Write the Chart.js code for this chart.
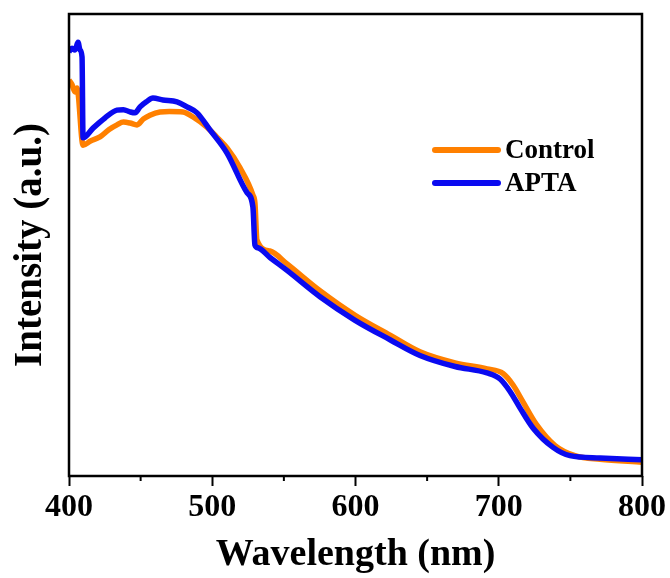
<!DOCTYPE html>
<html>
<head>
<meta charset="utf-8">
<script src="https://cdn.jsdelivr.net/npm/chart.js@4.4.1/dist/chart.umd.min.js"></script>
<style>
  html, body { margin: 0; padding: 0; background: #fff; }
</style>
</head>
<body>
<canvas id="specChart" width="670" height="578"></canvas>
<script>
// wavelength (nm) and intensity (a.u., 0-100)
const controlWavelength = [400, 402, 404.2, 405.6, 409.8, 415, 421.6, 428, 433.5, 438, 442.6, 447.5, 452, 456.5, 463.5, 470, 479.6, 486.6, 496.3, 503, 510.3, 519.4, 528.4, 529.8, 531.2, 540.3, 552.2, 575.2, 599.7, 624.1, 645, 669.5, 691.8, 703, 710, 717, 726, 739.3, 753.2, 770.7, 800];
const controlIntensity  = [85.7, 84.8, 83.1, 84.0, 71.6, 72.5, 73.4, 75.0, 76.0, 76.6, 76.4, 76.0, 77.3, 78.1, 78.8, 78.9, 78.8, 77.7, 75.5, 73.4, 71.0, 66.7, 60.8, 59.1, 51.1, 48.7, 45.9, 40.1, 34.8, 30.5, 26.9, 24.5, 23.2, 22.2, 19.7, 16.0, 11.3, 6.6, 4.4, 3.6, 3.0];

const aptaWavelength = [400, 402.1, 404.2, 406.3, 407.7, 409.1, 409.8, 416.8, 425.1, 433.5, 438, 442.6, 446.1, 449.6, 454, 458.6, 465.6, 475.4, 482.4, 489.4, 498.4, 510.3, 524.3, 528.4, 529.8, 531.9, 540.3, 552.2, 575.2, 599.7, 624.1, 645, 669.5, 691.8, 700.9, 707.9, 714.9, 723.9, 737.9, 749.7, 770.7, 800];
const aptaIntensity  = [91.8, 92.6, 92.2, 93.9, 92.2, 90.7, 73.2, 75.3, 77.5, 79.2, 79.3, 78.8, 78.6, 79.9, 81.0, 81.8, 81.4, 81.0, 79.9, 78.6, 74.9, 69.9, 61.3, 58.2, 50.0, 49.4, 47.3, 44.5, 38.8, 33.7, 29.5, 26.1, 23.7, 22.3, 21.0, 18.3, 14.7, 10.4, 6.2, 4.4, 3.9, 3.5];

const xTickLabels = [400, 500, 600, 700, 800];
const xMinorTicks = [450, 550, 650, 750];
const seriesNames = ['Control', 'APTA'];
const seriesColors = ['#FF8000', '#0A0AF0'];

const serif = '"Liberation Serif", "Times New Roman", serif';

function toPoints(xs, ys) {
    return xs.map((x, i) => ({ x: x, y: ys[i] }));
}

// frame, minor ticks and the legend block inside the plot
const framePlugin = {
    id: 'frame',
    afterDraw(chart) {
        const { ctx, chartArea: a } = chart;
        const x = chart.scales.x;
        ctx.save();
        ctx.strokeStyle = '#000';
        ctx.lineWidth = 2.5;
        ctx.strokeRect(a.left, a.top, a.right - a.left, a.bottom - a.top);
        ctx.lineWidth = 2;
        xMinorTicks.forEach(v => {
            const px = x.getPixelForValue(v);
            ctx.beginPath();
            ctx.moveTo(px, a.bottom);
            ctx.lineTo(px, a.bottom + 5);
            ctx.stroke();
        });

        // legend
        const lx = 435, ly = 150, gap = 33, len = 63;
        ctx.font = 'bold 27px ' + serif;
        ctx.textBaseline = 'middle';
        ctx.textAlign = 'left';
        ctx.lineCap = 'round';
        seriesNames.forEach((name, i) => {
            const y = ly + i * gap;
            ctx.strokeStyle = seriesColors[i];
            ctx.lineWidth = 6;
            ctx.beginPath();
            ctx.moveTo(lx, y);
            ctx.lineTo(lx + len, y);
            ctx.stroke();
            ctx.fillStyle = '#000';
            ctx.fillText(name, lx + len + 7, y + 1);
        });
        ctx.restore();
    }
};

const ctx = document.getElementById('specChart').getContext('2d');
const specChart = new Chart(ctx, {
    type: 'line',
    data: {
        datasets: [{
            label: seriesNames[1],
            data: toPoints(aptaWavelength, aptaIntensity),
            borderColor: seriesColors[1],
            backgroundColor: seriesColors[1]
        }, {
            label: seriesNames[0],
            data: toPoints(controlWavelength, controlIntensity),
            borderColor: seriesColors[0],
            backgroundColor: seriesColors[0]
        }]
    },
    options: {
        responsive: false,
        animation: false,
        layout: { padding: { left: 0, right: 28, top: 14, bottom: 0 } },
        elements: {
            point: { radius: 0 },
            line: { borderWidth: 5.5, cubicInterpolationMode: 'monotone', fill: false }
        },
        plugins: {
            legend: { display: false },
            tooltip: { enabled: false }
        },
        scales: {
            x: {
                type: 'linear',
                min: 400,
                max: 800,
                afterBuildTicks: s => { s.ticks = xTickLabels.map(v => ({ value: v })); },
                ticks: {
                    color: '#000',
                    padding: 3,
                    maxRotation: 0,
                    font: { family: serif, size: 32, weight: 'bold' }
                },
                grid: { drawOnChartArea: false, tickLength: 10, tickWidth: 2, tickColor: '#000' },
                border: { display: false },
                title: {
                    display: true,
                    text: 'Wavelength (nm)',
                    color: '#000',
                    padding: { top: 0, bottom: 0 },
                    font: { family: serif, size: 38, weight: 'bold' }
                },
                afterFit: s => { s.height = 102; s.paddingLeft = 0; s.paddingRight = 0; }
            },
            y: {
                min: 0,
                max: 100,
                ticks: { display: false },
                grid: { display: false },
                border: { display: false },
                title: {
                    display: true,
                    text: 'Intensity (a.u.)',
                    color: '#000',
                    padding: { top: 8, bottom: 0 },
                    font: { family: serif, size: 39, weight: 'bold' }
                },
                afterFit: s => { s.width = 69; s.paddingTop = 0; s.paddingBottom = 0; }
            }
        }
    },
    plugins: [framePlugin]
});
</script>
</body>
</html>
